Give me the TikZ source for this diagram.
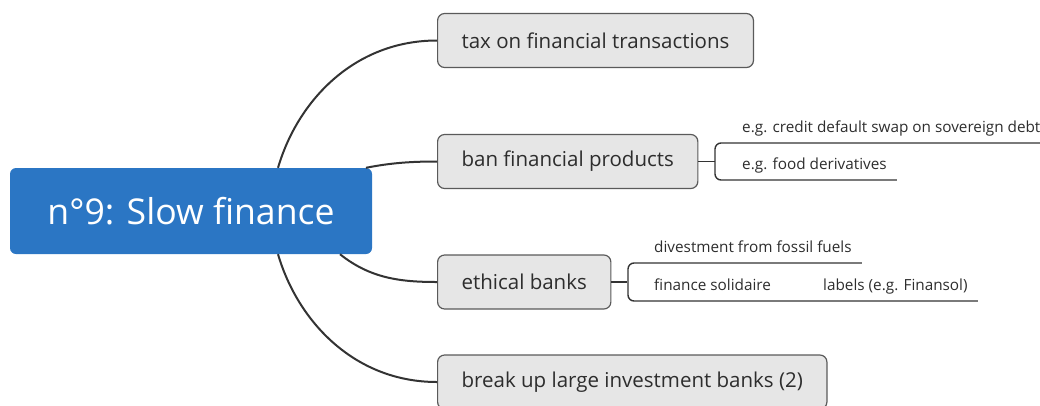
\documentclass[tikz,border=0pt]{standalone}
\usepackage{fontspec}
\setmainfont{Open Sans}
\usepackage{tikz}
\definecolor{rootblue}{RGB}{43,118,196}
\definecolor{boxgray}{RGB}{230,230,230}
\definecolor{edgegray}{RGB}{90,90,90}
\definecolor{linegray}{RGB}{51,51,51}
\definecolor{textgray}{RGB}{45,45,45}

\begin{document}
\begin{tikzpicture}[x=1pt, y=-1pt,
    root/.style={fill=rootblue, rounded corners=6pt, text=white, minimum width=362pt, minimum height=86pt, font=\fontsize{35.6}{42}\selectfont},
    topic/.style={draw=edgegray, line width=1.2pt, fill=boxgray, rounded corners=7pt, text=textgray, anchor=west, inner xsep=24pt, minimum height=54pt, font=\fontsize{20.5}{24}\selectfont},
    leaf/.style={anchor=south west, inner xsep=10pt, inner ysep=6pt, text height=11pt, text depth=4pt, text=textgray, font=\fontsize{15.3}{18}\selectfont},
    branch/.style={draw=linegray, line width=2pt},
    subline/.style={draw=linegray, line width=1.4pt}]
    \useasboundingbox (0,0) rectangle (1040,405);

    % central topic and main branches
    \node[root] (root) at (191,211) {n°9: Slow finance};
    \node[topic] (tax) at (437,40.5) {tax on financial transactions};
    \node[topic] (ban) at (437,161.5) {ban financial products};
    \node[topic] (eth) at (437,282) {ethical banks};
    \node[topic] (brk) at (437,382) {break up large investment banks (2)};

    \draw[branch] ([xshift=87pt]root.north) .. controls +(20,-68) and +(-82,0) .. (tax.west);
    \draw[branch] ([xshift=175pt]root.north) .. controls +(25,-5) and +(-25,0) .. (ban.west);
    \draw[branch] ([xshift=149pt]root.south) .. controls +(30,24) and +(-37,0) .. (eth.west);
    \draw[branch] ([xshift=87pt]root.south) .. controls +(20,68) and +(-82,0) .. (brk.west);

    % details of ban financial products
    \node[leaf] (cds) at (732,143) {e.g. credit default swap on sovereign debt};
    \node[leaf] (food) at (732,180) {e.g. food derivatives};
    \draw[subline] (ban.east) -- ++(17,0);
    \draw[subline, rounded corners=6pt] (cds.south east) -- ([xshift=-17pt]cds.south west)
        -- ([xshift=-17pt]food.south west) -- (food.south east);

    % details of ethical banks
    \node[leaf] (div) at (644,263) {divestment from fossil fuels};
    \node[leaf] (sol) at (644,301) {finance solidaire};
    \node[leaf] (lab) at (813,301) {labels (e.g. Finansol)};
    \draw[subline] (eth.east) -- ++(16,0);
    \draw[subline, rounded corners=6pt] (div.south east) -- ([xshift=-16pt]div.south west)
        -- ([xshift=-16pt]sol.south west) -- (lab.south east);
\end{tikzpicture}
\end{document}
